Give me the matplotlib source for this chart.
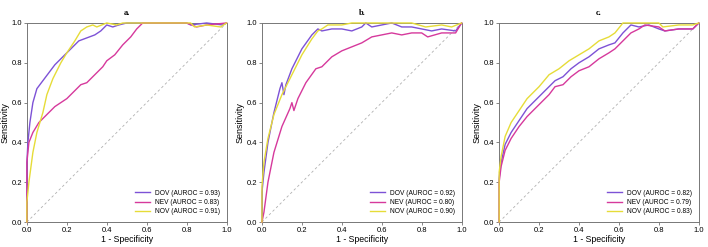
import matplotlib
matplotlib.use("Agg")
import matplotlib.pyplot as plt

# ROC points: (1 - specificity, sensitivity)
a_dov_x = [0, 0, 0.005, 0.015, 0.03, 0.05, 0.08, 0.11, 0.14, 0.18, 0.22, 0.26, 0.3, 0.34, 0.37, 0.4, 0.43, 0.46, 0.5, 0.8, 0.82, 0.9, 0.98, 1]
a_dov_y = [0, 0.3, 0.4, 0.5, 0.6, 0.67, 0.71, 0.75, 0.79, 0.83, 0.87, 0.91, 0.925, 0.94, 0.96, 0.99, 0.98, 0.99, 1.0, 1.0, 0.99, 1.0, 0.99, 1]
a_nev_x = [0, 0, 0.01, 0.03, 0.06, 0.1, 0.14, 0.2, 0.24, 0.27, 0.3, 0.34, 0.38, 0.4, 0.44, 0.48, 0.52, 0.55, 0.58, 0.8, 0.85, 0.9, 1]
a_nev_y = [0, 0.3, 0.4, 0.45, 0.5, 0.54, 0.58, 0.62, 0.66, 0.69, 0.7, 0.74, 0.78, 0.81, 0.84, 0.89, 0.93, 0.97, 1.0, 1.0, 0.98, 0.99, 1]
a_nov_x = [0, 0, 0.01, 0.03, 0.05, 0.08, 0.1, 0.13, 0.17, 0.2, 0.24, 0.27, 0.3, 0.33, 0.35, 0.4, 0.45, 0.48, 0.82, 0.84, 0.9, 0.97, 1]
a_nov_y = [0, 0.1, 0.2, 0.35, 0.45, 0.55, 0.64, 0.72, 0.8, 0.85, 0.91, 0.96, 0.98, 0.99, 0.98, 1.0, 0.99, 1.0, 1.0, 0.98, 0.99, 0.98, 1]

b_dov_x = [0, 0, 0.01, 0.03, 0.06, 0.09, 0.1, 0.11, 0.12, 0.15, 0.2, 0.25, 0.28, 0.3, 0.35, 0.4, 0.45, 0.5, 0.52, 0.55, 0.6, 0.65, 0.7, 0.75, 0.8, 0.85, 0.9, 0.97, 1]
b_dov_y = [0, 0.15, 0.25, 0.4, 0.55, 0.67, 0.7, 0.64, 0.69, 0.77, 0.87, 0.94, 0.97, 0.96, 0.97, 0.97, 0.96, 0.98, 1.0, 0.98, 0.99, 1.0, 0.98, 0.98, 0.97, 0.96, 0.97, 0.96, 1]
b_nev_x = [0, 0.01, 0.03, 0.06, 0.1, 0.14, 0.15, 0.16, 0.18, 0.22, 0.27, 0.3, 0.35, 0.4, 0.45, 0.5, 0.55, 0.6, 0.65, 0.7, 0.75, 0.8, 0.83, 0.9, 0.97, 1]
b_nev_y = [0, 0.05, 0.2, 0.35, 0.48, 0.57, 0.6, 0.56, 0.62, 0.7, 0.77, 0.78, 0.83, 0.86, 0.88, 0.9, 0.93, 0.94, 0.95, 0.94, 0.95, 0.95, 0.93, 0.95, 0.95, 1]
b_nov_x = [0, 0, 0.01, 0.03, 0.06, 0.1, 0.15, 0.2, 0.25, 0.28, 0.3, 0.33, 0.4, 0.45, 0.75, 0.82, 0.9, 0.95, 1]
b_nov_y = [0, 0.18, 0.3, 0.42, 0.54, 0.64, 0.74, 0.84, 0.92, 0.96, 0.97, 0.99, 0.99, 1.0, 1.0, 0.98, 0.99, 0.98, 1]

c_dov_x = [0, 0, 0.01, 0.03, 0.06, 0.1, 0.14, 0.2, 0.25, 0.28, 0.32, 0.36, 0.4, 0.45, 0.5, 0.55, 0.58, 0.62, 0.66, 0.7, 0.75, 0.8, 0.83, 0.9, 0.97, 1]
c_dov_y = [0, 0.22, 0.3, 0.39, 0.45, 0.51, 0.57, 0.63, 0.68, 0.71, 0.73, 0.77, 0.8, 0.83, 0.87, 0.89, 0.9, 0.95, 0.99, 0.98, 0.99, 0.97, 0.96, 0.97, 0.97, 1]
c_nev_x = [0, 0, 0.01, 0.03, 0.06, 0.1, 0.14, 0.2, 0.25, 0.28, 0.32, 0.36, 0.4, 0.45, 0.5, 0.55, 0.58, 0.62, 0.66, 0.7, 0.73, 0.8, 0.83, 0.9, 0.97, 1]
c_nev_y = [0, 0.2, 0.28, 0.36, 0.42, 0.48, 0.53, 0.59, 0.64, 0.68, 0.69, 0.73, 0.76, 0.78, 0.82, 0.85, 0.87, 0.91, 0.95, 0.97, 0.99, 0.98, 0.96, 0.97, 0.97, 1]
c_nov_x = [0, 0, 0.01, 0.03, 0.06, 0.1, 0.14, 0.2, 0.25, 0.3, 0.35, 0.4, 0.45, 0.5, 0.55, 0.58, 0.62, 0.8, 0.82, 0.9, 0.97, 1]
c_nov_y = [0, 0.25, 0.33, 0.43, 0.5, 0.56, 0.62, 0.68, 0.74, 0.77, 0.81, 0.84, 0.87, 0.91, 0.93, 0.95, 1.0, 1.0, 0.98, 0.99, 0.99, 1]

panel_titles = ["a.", "b.", "c."]
auroc_a = [0.93, 0.83, 0.91]
auroc_b = [0.92, 0.80, 0.90]
auroc_c = [0.82, 0.79, 0.83]
names = ["DOV", "NEV", "NOV"]
colors = ["#7d52d6", "#d6399c", "#e6dc38"]
ticks = [0.0, 0.2, 0.4, 0.6, 0.8, 1.0]

panels = [
    ([(a_dov_x, a_dov_y), (a_nev_x, a_nev_y), (a_nov_x, a_nov_y)], auroc_a),
    ([(b_dov_x, b_dov_y), (b_nev_x, b_nev_y), (b_nov_x, b_nov_y)], auroc_b),
    ([(c_dov_x, c_dov_y), (c_nev_x, c_nev_y), (c_nov_x, c_nov_y)], auroc_c),
]

plt.rcParams['font.family'] = ['Liberation Sans', 'DejaVu Sans']

fig = plt.figure(figsize=(7.08, 2.47), dpi=100)
lefts = [0.038, 0.370, 0.705]

for i, (curves, aucs) in enumerate(panels):
    ax = fig.add_axes([lefts[i], 0.101, 0.282, 0.806])
    ax.plot([0, 1], [0, 1], linestyle=(0, (3, 3)), color="#b0b0b0", linewidth=0.6)
    for (x, y), name, auc, col in zip(curves, names, aucs, colors):
        ax.plot(x, y, color=col, linewidth=1.0, zorder=3, clip_on=False,
                label="%s (AUROC = %.2f)" % (name, auc))
    ax.set_xlim(0, 1)
    ax.set_ylim(0, 1)
    ax.set_xticks(ticks)
    ax.set_yticks(ticks)
    ax.tick_params(labelsize=5.5, length=2, width=0.5, pad=1.5, color="#555555")
    for s in ax.spines.values():
        s.set_color("#777777")
        s.set_linewidth(0.7)
    ax.set_xlabel("1 - Specificity", fontsize=6.3, labelpad=1)
    ax.set_ylabel("Sensitivity", fontsize=6.5, labelpad=1.5)
    ax.set_title(panel_titles[i], fontsize=6, fontweight="bold", family="Liberation Serif", pad=6)
    ax.legend(loc="lower right", frameon=False, fontsize=4.8, handlelength=2.2,
              handletextpad=0.8, labelspacing=0.35, borderaxespad=0.6)

fig.savefig("out.png", dpi=100)
